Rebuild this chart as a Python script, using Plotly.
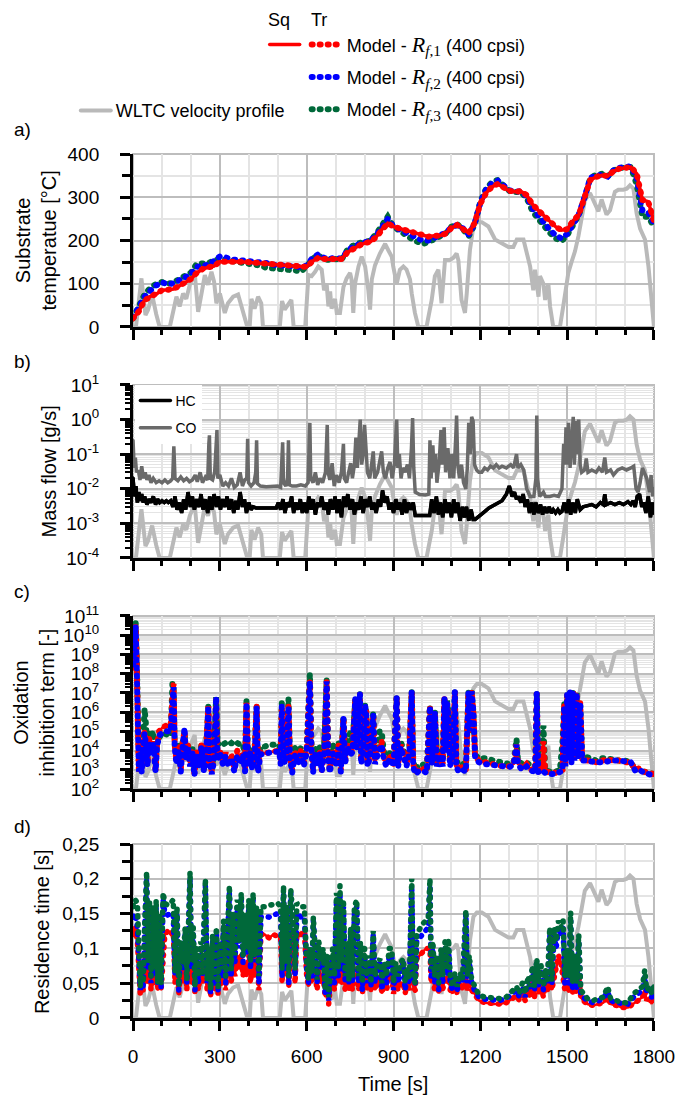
import plotly.graph_objects as go

# ---------------------------------------------------------------
# WLTC velocity profile (km/h), line vertices
# ---------------------------------------------------------------
vel_t = [0, 10, 29, 43, 52, 66, 80, 92, 127, 138,
         150, 161, 173, 184, 196, 213, 225, 236, 248, 259,
         271, 280, 288, 300, 317, 328, 346, 363, 374, 386,
         395, 403, 409, 420, 432, 443, 449, 507, 515, 524,
         536, 547, 555, 595, 606, 617, 629, 640, 652, 660,
         669, 675, 681, 686, 698, 704, 715, 727, 738, 750,
         755, 761, 767, 779, 790, 802, 813, 819, 825, 836,
         853, 871, 882, 894, 899, 911, 922, 934, 945, 957,
         963, 974, 986, 1014, 1032, 1043, 1055, 1060, 1066, 1078,
         1095, 1107, 1118, 1124, 1130, 1135, 1141, 1147, 1153, 1164,
         1176, 1188, 1205, 1228, 1251, 1274, 1297, 1314, 1326, 1349,
         1360, 1372, 1383, 1389, 1401, 1406, 1418, 1424, 1435, 1441,
         1452, 1475, 1487, 1504, 1515, 1527, 1539, 1550, 1561, 1579,
         1596, 1608, 1619, 1636, 1648, 1665, 1677, 1694, 1706, 1717,
         1729, 1740, 1752, 1769, 1781, 1792, 1800]
vel_kmh = [0, 0, 45, 11, 16, 30, 12, 0, 0, 14,
           28, 19, 31, 26, 39, 50, 14, 30, 48, 39,
           51, 42, 22, 31, 13, 22, 28, 30, 20, 11,
           0, 0, 26, 17, 28, 22, 0, 0, 24, 16,
           20, 25, 0, 0, 48, 47, 51, 56, 53, 34,
           40, 19, 33, 17, 26, 13, 13, 37, 45, 50,
           44, 13, 40, 56, 65, 56, 34, 16, 44, 57,
           68, 77, 71, 65, 56, 40, 53, 56, 53, 44,
           31, 13, 0, 0, 25, 47, 53, 34, 22, 62,
           62, 64, 68, 62, 44, 25, 19, 13, 31, 71,
           93, 97, 97, 93, 81, 77, 74, 74, 81, 81,
           68, 56, 34, 53, 28, 47, 40, 25, 40, 19,
           0, 0, 20, 50, 60, 70, 84, 100, 117, 124,
           114, 107, 118, 104, 108, 125, 127, 127, 128, 131,
           128, 105, 91, 81, 56, 25, 0]

# ---------------------------------------------------------------
# a) substrate temperature [°C], sampled every 20 s
# ---------------------------------------------------------------
temp_t = list(range(0, 1801, 20))
temp_rf1 = [20, 36, 62, 71, 76, 85, 86, 88, 95, 103,
            111, 125, 134, 138, 141, 151, 152, 151, 151, 151,
            150, 148, 147, 145, 144, 143, 143, 142, 140, 141,
            139, 152, 160, 157, 156, 158, 157, 172, 181, 188,
            194, 197, 208, 226, 240, 232, 228, 224, 220, 217,
            213, 209, 211, 211, 216, 229, 236, 228, 217, 240,
            285, 310, 324, 331, 322, 315, 313, 314, 305, 284,
            270, 257, 243, 232, 224, 226, 245, 259, 300, 340,
            347, 351, 349, 360, 366, 368, 370, 355, 294, 290,
            245]
temp_rf2 = [22, 45, 70, 84, 96, 103, 99, 101, 109, 116,
            122, 139, 142, 144, 153, 163, 161, 156, 155, 154,
            154, 153, 150, 148, 144, 142, 142, 141, 140, 138,
            142, 160, 168, 160, 158, 160, 158, 175, 186, 192,
            196, 200, 212, 230, 250, 232, 226, 220, 212, 205,
            200, 200, 206, 211, 218, 230, 236, 228, 214, 238,
            288, 318, 332, 338, 325, 316, 313, 314, 302, 275,
            258, 240, 225, 212, 205, 215, 238, 260, 300, 345,
            350, 352, 348, 362, 368, 369, 372, 345, 270, 265,
            240]
temp_rf3 = [20, 48, 76, 90, 100, 104, 100, 103, 112, 120,
            126, 146, 148, 148, 154, 158, 156, 152, 150, 148,
            147, 145, 142, 137, 135, 134, 133, 132, 131, 128,
            140, 158, 166, 156, 155, 157, 155, 178, 188, 194,
            196, 200, 215, 235, 255, 232, 222, 214, 205, 198,
            192, 196, 203, 208, 216, 232, 238, 226, 210, 236,
            290, 320, 335, 340, 326, 315, 312, 312, 298, 268,
            250, 232, 218, 205, 198, 212, 236, 258, 298, 345,
            352, 354, 348, 362, 368, 370, 370, 330, 255, 255,
            232]

# ---------------------------------------------------------------
# b) HC and CO mass flow [g/s]
# ---------------------------------------------------------------
hc_t = [0, 5, 10, 15, 20, 25, 30, 35, 40, 48,
        55, 62, 70, 78, 85, 92, 100, 108, 115, 122,
        130, 138, 145, 152, 160, 168, 175, 182, 190, 198,
        205, 212, 220, 228, 235, 242, 250, 258, 265, 272,
        280, 288, 295, 302, 310, 318, 325, 332, 340, 348,
        355, 362, 370, 378, 385, 392, 400, 408, 415, 425,
        440, 460, 480, 495, 502, 510, 518, 525, 532, 540,
        548, 555, 562, 570, 578, 585, 592, 600, 608, 615,
        622, 630, 638, 645, 652, 660, 668, 675, 682, 690,
        698, 705, 712, 720, 728, 735, 742, 750, 758, 765,
        772, 780, 788, 795, 802, 810, 818, 825, 832, 840,
        848, 855, 862, 870, 878, 885, 892, 900, 908, 915,
        922, 930, 938, 945, 952, 960, 968, 975, 1000, 1025,
        1032, 1040, 1048, 1055, 1062, 1070, 1078, 1085, 1092, 1100,
        1108, 1115, 1122, 1130, 1138, 1145, 1152, 1160, 1168, 1175,
        1182, 1190, 1200, 1215, 1230, 1245, 1260, 1275, 1290, 1300,
        1310, 1318, 1325, 1332, 1340, 1348, 1355, 1362, 1370, 1378,
        1385, 1392, 1400, 1408, 1415, 1422, 1430, 1438, 1445, 1452,
        1460, 1468, 1475, 1482, 1490, 1498, 1505, 1512, 1520, 1528,
        1535, 1545, 1555, 1570, 1585, 1600, 1615, 1625, 1630, 1635,
        1650, 1665, 1680, 1695, 1710, 1720, 1728, 1735, 1742, 1750,
        1758, 1765, 1772, 1780, 1788, 1795, 1800]
hc_flow = [0.02, 0.006, 0.012, 0.004, 0.008, 0.0045, 0.007, 0.004, 0.006, 0.0035,
           0.005, 0.004, 0.006, 0.0035, 0.005, 0.004, 0.0045, 0.004, 0.0045, 0.004,
           0.0045, 0.003, 0.006, 0.0025, 0.004, 0.002, 0.005, 0.0025, 0.008, 0.003,
           0.006, 0.0025, 0.005, 0.003, 0.007, 0.0025, 0.005, 0.002, 0.006, 0.0025,
           0.007, 0.003, 0.006, 0.0025, 0.005, 0.003, 0.006, 0.0025, 0.005, 0.002,
           0.0045, 0.0025, 0.008, 0.003, 0.005, 0.002, 0.004, 0.0025, 0.003, 0.0028,
           0.0028, 0.0028, 0.0027, 0.0028, 0.004, 0.0025, 0.005, 0.002, 0.004, 0.003,
           0.006, 0.002, 0.004, 0.0025, 0.005, 0.002, 0.004, 0.002, 0.006, 0.0025,
           0.005, 0.0018, 0.004, 0.003, 0.006, 0.0025, 0.004, 0.0018, 0.005, 0.0025,
           0.006, 0.002, 0.005, 0.0015, 0.006, 0.003, 0.007, 0.0025, 0.005, 0.0018,
           0.004, 0.0025, 0.006, 0.002, 0.005, 0.003, 0.006, 0.0025, 0.004, 0.002,
           0.005, 0.003, 0.009, 0.004, 0.006, 0.0025, 0.004, 0.002, 0.005, 0.0025,
           0.004, 0.0018, 0.005, 0.002, 0.004, 0.0025, 0.004, 0.0017, 0.0017, 0.0017,
           0.005, 0.002, 0.006, 0.0018, 0.004, 0.0015, 0.005, 0.002, 0.004, 0.0015,
           0.005, 0.002, 0.004, 0.0012, 0.003, 0.0015, 0.003, 0.0012, 0.0025, 0.0013,
           0.0013, 0.0015, 0.0018, 0.0022, 0.0028, 0.0033, 0.004, 0.0045, 0.007, 0.012,
           0.006, 0.008, 0.005, 0.006, 0.004, 0.007, 0.003, 0.005, 0.002, 0.004,
           0.0018, 0.004, 0.002, 0.0035, 0.0018, 0.003, 0.002, 0.003, 0.002, 0.0025,
           0.002, 0.0025, 0.002, 0.0022, 0.004, 0.002, 0.005, 0.0018, 0.004, 0.002,
           0.005, 0.0025, 0.003, 0.0032, 0.0035, 0.003, 0.004, 0.0035, 0.007, 0.0035,
           0.004, 0.0035, 0.004, 0.0035, 0.0042, 0.0035, 0.0045, 0.003, 0.006, 0.007,
           0.003, 0.004, 0.002, 0.006, 0.0015, 0.004, 0.002]

co_t = [0, 4, 8, 12, 18, 24, 30, 36, 42, 48,
        55, 62, 70, 80, 90, 100, 110, 120, 130, 137,
        141, 145, 155, 165, 175, 185, 195, 205, 215, 222,
        232, 240, 250, 258, 262, 264, 267, 275, 282, 288,
        290, 293, 300, 310, 320, 330, 340, 350, 360, 370,
        378, 386, 393, 396, 399, 408, 418, 424, 427, 430,
        440, 460, 480, 500, 510, 514, 517, 520, 528, 534,
        537, 540, 550, 565, 580, 595, 605, 609, 611, 614,
        622, 630, 638, 646, 655, 665, 669, 671, 674, 680,
        688, 695, 703, 712, 720, 727, 730, 738, 745, 752,
        758, 765, 770, 775, 780, 785, 790, 795, 800, 805,
        810, 818, 825, 830, 835, 845, 852, 859, 865, 872,
        880, 888, 895, 903, 911, 915, 920, 926, 932, 940,
        948, 955, 962, 966, 970, 975, 990, 1010, 1022, 1026,
        1030, 1036, 1040, 1045, 1050, 1058, 1064, 1068, 1075, 1080,
        1088, 1095, 1102, 1108, 1115, 1118, 1122, 1128, 1135, 1142,
        1150, 1155, 1160, 1165, 1170, 1175, 1180, 1187, 1195, 1205,
        1215, 1225, 1235, 1245, 1255, 1265, 1275, 1290, 1305, 1315,
        1325, 1330, 1340, 1350, 1360, 1372, 1385, 1392, 1395, 1398,
        1405, 1418, 1425, 1440, 1455, 1470, 1482, 1488, 1492, 1496,
        1500, 1505, 1510, 1515, 1521, 1525, 1530, 1535, 1540, 1545,
        1550, 1560, 1566, 1572, 1585, 1600, 1610, 1622, 1630, 1636,
        1650, 1660, 1675, 1690, 1705, 1720, 1730, 1738, 1745, 1752,
        1760, 1766, 1775, 1785, 1790, 1795, 1800]
co_flow = [0.25, 0.04, 0.08, 0.03, 0.035, 0.018, 0.045, 0.02, 0.03, 0.018,
           0.025, 0.015, 0.02, 0.015, 0.017, 0.015, 0.018, 0.015, 0.017, 0.02,
           0.17, 0.02, 0.017, 0.022, 0.017, 0.02, 0.016, 0.018, 0.025, 0.016,
           0.03, 0.015, 0.022, 0.018, 0.2, 0.35, 0.02, 0.018, 0.03, 0.2,
           0.5, 0.02, 0.025, 0.012, 0.015, 0.012, 0.02, 0.011, 0.013, 0.03,
           0.012, 0.018, 0.02, 0.28, 0.015, 0.012, 0.015, 0.03, 0.25, 0.014,
           0.012, 0.0115, 0.0115, 0.012, 0.011, 0.2, 0.22, 0.015, 0.012, 0.02,
           0.25, 0.013, 0.012, 0.012, 0.013, 0.012, 0.015, 0.3, 0.8, 0.02,
           0.015, 0.03, 0.013, 0.02, 0.015, 0.03, 0.35, 0.7, 0.03, 0.018,
           0.055, 0.012, 0.025, 0.015, 0.03, 0.2, 0.02, 0.015, 0.03, 0.055,
           0.02, 0.05, 0.3, 0.04, 0.2, 1.0, 0.05, 0.1, 0.7, 0.2,
           0.03, 0.02, 0.05, 0.12, 0.02, 0.03, 0.06, 0.12, 0.03, 0.02,
           0.04, 0.06, 0.02, 0.05, 1.0, 0.04, 0.1, 0.02, 0.04, 0.03,
           0.05, 0.02, 0.15, 1.1, 0.04, 0.008, 0.0068, 0.0066, 0.007, 0.25,
           0.02, 0.18, 0.03, 0.1, 0.015, 0.06, 0.5, 0.05, 0.6, 0.03,
           0.15, 0.02, 0.1, 0.02, 0.3, 1.3, 0.05, 0.02, 0.05, 0.015,
           0.01, 0.04, 0.8, 0.1, 1.2, 0.9, 0.05, 0.035, 0.03, 0.03,
           0.04, 0.035, 0.045, 0.04, 0.05, 0.04, 0.045, 0.04, 0.05, 0.04,
           0.1, 0.04, 0.05, 0.035, 0.01, 0.006, 0.006, 0.02, 1.3, 0.02,
           0.006, 0.008, 0.006, 0.006, 0.0065, 0.006, 0.01, 0.2, 0.05, 0.6,
           0.05, 0.8, 0.04, 0.3, 1.2, 0.05, 0.9, 0.1, 1.0, 0.05,
           0.03, 0.035, 0.075, 0.03, 0.035, 0.03, 0.04, 0.03, 0.08, 0.03,
           0.035, 0.025, 0.035, 0.04, 0.035, 0.04, 0.045, 0.01, 0.008, 0.015,
           0.04, 0.03, 0.02, 0.008, 0.025, 0.006, 0.01]

# ---------------------------------------------------------------
# c) oxidation inhibition term [-]
# ---------------------------------------------------------------
inh_t = [0, 5, 9, 12, 15, 20, 25, 30, 35, 40,
         45, 50, 55, 62, 70, 78, 83, 90, 100, 115,
         130, 136, 140, 144, 150, 158, 165, 172, 178, 183,
         190, 197, 205, 212, 220, 228, 236, 245, 252, 260,
         265, 272, 280, 287, 292, 300, 310, 320, 330, 340,
         350, 360, 370, 380, 387, 392, 397, 405, 412, 420,
         427, 432, 440, 450, 470, 490, 505, 510, 514, 519,
         525, 531, 537, 542, 550, 560, 570, 580, 590, 600,
         606, 611, 616, 622, 630, 638, 645, 652, 660, 669,
         674, 680, 690, 700, 710, 718, 727, 733, 740, 750,
         758, 764, 768, 772, 778, 784, 788, 795, 802, 806,
         810, 818, 830, 836, 845, 852, 859, 866, 875, 888,
         900, 911, 916, 925, 935, 945, 955, 963, 968, 975,
         985, 1000, 1015, 1026, 1032, 1043, 1050, 1060, 1070, 1076,
         1080, 1085, 1090, 1095, 1105, 1112, 1117, 1125, 1140, 1150,
         1159, 1164, 1170, 1176, 1182, 1195, 1215, 1240, 1270, 1300,
         1315, 1325, 1330, 1345, 1360, 1375, 1390, 1395, 1400, 1412,
         1418, 1424, 1440, 1460, 1475, 1484, 1490, 1494, 1500, 1504,
         1510, 1515, 1520, 1525, 1533, 1538, 1545, 1552, 1560, 1580,
         1600, 1620, 1640, 1660, 1680, 1700, 1720, 1735, 1750, 1765,
         1780, 1800]
inh_rf1 = [2e8, 3e9, 3e10, 1e9, 3e4, 1e3, 2e4, 1e3, 3e4, 1e5,
           3e4, 2e3, 5e4, 1e4, 3e4, 1e3, 2e4, 1e5, 1.5e5, 2e5,
           2e5, 3e7, 3e7, 2e4, 3e3, 2e4, 1e3, 3e4, 1e5, 5e3,
           2e4, 2e3, 1e4, 6e2, 8e3, 2e3, 2e4, 1e3, 5e3, 2e6,
           3e3, 8e2, 5e3, 6e6, 5e3, 1e4, 3e3, 8e3, 2e3, 6e3,
           1e3, 1e4, 3e3, 8e3, 1e3, 3e6, 2e3, 1e4, 1.5e3, 5e3,
           2e6, 1e3, 8e3, 7e3, 8e3, 9e3, 1e4, 3e3, 2e6, 1e4,
           3e3, 8e3, 2e6, 5e3, 1e3, 1e4, 3e3, 1e4, 2e3, 1e4,
           1e6, 4e7, 2e4, 1e3, 8e3, 2e3, 1e4, 1e3, 8e3, 4e7,
           5e3, 1e3, 1e4, 2e3, 2e4, 1e3, 5e5, 3e3, 2e4, 8e3,
           1e4, 1.5e6, 5e6, 2e4, 1e6, 1e7, 3e3, 1e4, 2e6, 1e6,
           2e3, 5e3, 7e5, 3e3, 8e3, 2e4, 3e4, 5e3, 2e3, 5e3,
           2e3, 6e6, 2e3, 2e4, 8e3, 2e3, 1e4, 1.2e7, 2e3, 8e2,
           1e3, 1.2e3, 8e2, 2e6, 3e3, 1e6, 2e3, 8e3, 2e3, 6e6,
           1e4, 3e6, 8e5, 2e3, 8e3, 1.2e7, 2e3, 1e3, 1.5e3, 1e3,
           1e7, 1e5, 1.2e7, 1e6, 5e3, 3e3, 2.5e3, 2e3, 1.6e3, 1.5e3,
           2e3, 2e4, 2e3, 1.2e3, 2e3, 1e3, 1e3, 1e7, 8e2, 1e3,
           3e4, 8e2, 7e2, 7e2, 8e2, 1e3, 2e6, 2e3, 8e6, 5e3,
           1.2e7, 3e3, 1.2e7, 4e3, 1e7, 5e3, 3e6, 3e3, 3e3, 3e3,
           2.5e3, 3e3, 3.5e3, 3e3, 3e3, 2.5e3, 2.5e3, 1e3, 1.2e3, 8e2,
           7e2, 6e2]
inh_rf2 = [3e8, 3e9, 3e10, 1e9, 2e4, 8e2, 1.5e4, 7e2, 2e4, 8e4,
           2e4, 1.5e3, 3e4, 8e3, 2e4, 8e2, 1.5e4, 6e4, 8e4, 1e5,
           1e5, 2e7, 2e7, 1.5e4, 2e3, 1e4, 8e2, 2e4, 1.5e5, 4e3,
           1.5e4, 1.5e3, 8e3, 5e2, 6e3, 1.5e3, 1.5e4, 8e2, 4e3, 2e6,
           2e3, 6e2, 3e3, 6e6, 3e3, 8e3, 2e3, 5e3, 1.5e3, 4e3,
           8e2, 6e3, 2e3, 6e3, 8e2, 3e6, 1.5e3, 8e3, 1e3, 4e3,
           2e6, 7e2, 6e3, 7e3, 8e3, 9e3, 9e3, 2e3, 2e6, 8e3,
           2e3, 6e3, 2e6, 4e3, 7e2, 7e3, 2e3, 7e3, 1.5e3, 8e3,
           1e6, 4e7, 1.5e4, 7e2, 6e3, 1.5e3, 8e3, 8e2, 6e3, 4e7,
           4e3, 7e2, 7e3, 1.5e3, 1.5e4, 8e2, 5e5, 2e3, 1.5e4, 6e3,
           8e3, 1.5e6, 5e6, 1.5e4, 1e6, 1e7, 2e3, 8e3, 2e6, 1e6,
           1.5e3, 4e3, 7e5, 2e3, 6e3, 1.5e4, 2e4, 4e3, 1.5e3, 4e3,
           1.5e3, 6e6, 1.5e3, 1.5e4, 6e3, 1.5e3, 8e3, 1.2e7, 1.5e3, 6e2,
           8e2, 9e2, 7e2, 2e6, 2e3, 1e6, 1.5e3, 6e3, 1.5e3, 6e6,
           8e3, 3e6, 8e5, 1.5e3, 6e3, 1.2e7, 1.5e3, 8e2, 1e3, 8e2,
           1e7, 1e5, 1.2e7, 1e6, 4e3, 2.5e3, 2e3, 1.8e3, 1.5e3, 1.4e3,
           1.8e3, 2e4, 1.8e3, 1e3, 1.5e3, 9e2, 8e2, 1e7, 7e2, 8e2,
           8e2, 7e2, 6e2, 6e2, 7e2, 9e2, 2e6, 1.5e3, 8e6, 4e3,
           1.2e7, 2e3, 1.2e7, 3e3, 1e7, 4e3, 3e6, 3e3, 3e3, 2.5e3,
           2.5e3, 2.5e3, 3e3, 3e3, 3e3, 2.5e3, 2.5e3, 9e2, 1e3, 7e2,
           6e2, 5e2]
inh_rf3 = [5e8, 5e9, 5e10, 3e9, 4e4, 3e3, 3e4, 2e3, 4e4, 1.5e6,
           2e5, 5e3, 1e5, 4e4, 1e5, 2e3, 3e4, 5e4, 8e4, 7e4,
           6e4, 3e7, 3e7, 2e4, 5e3, 2e4, 2e3, 3e4, 1e5, 8e3,
           2e4, 3e3, 1.5e4, 1e3, 1e4, 3e3, 2e4, 2e3, 8e3, 2e6,
           5e3, 1e3, 8e3, 6e6, 2e4, 2.5e4, 2e4, 2.5e4, 2e4, 2.5e4,
           2e4, 2.5e4, 2e4, 2e4, 3e3, 4e6, 8e3, 1.5e4, 5e3, 1e4,
           2e6, 3e3, 1.5e4, 1.5e4, 2e4, 2e4, 2e4, 5e3, 3e6, 2e4,
           5e3, 1.5e4, 5e6, 1e4, 2e3, 1.5e4, 6e3, 1.5e4, 4e3, 1.2e4,
           1e6, 1e8, 3e4, 2e3, 1.5e4, 3e3, 1.5e4, 2e3, 1.2e4, 5e7,
           1e4, 2e3, 2e4, 4e3, 3e4, 2e3, 6e5, 6e3, 3e4, 8e4,
           2e4, 2e6, 5e6, 3e4, 1.5e6, 1e7, 5e3, 1.5e4, 2.5e6, 1e6,
           3e3, 8e3, 1e6, 5e3, 1.5e4, 1e5, 1e5, 1e4, 3e3, 8e3,
           3e3, 6e6, 3e3, 3e4, 1e4, 3e3, 1.5e4, 1.2e7, 3e3, 1e3,
           1.5e3, 2e3, 1e3, 2e6, 5e3, 1.2e6, 3e3, 1e4, 3e3, 6e6,
           2e4, 4e6, 1e6, 3e3, 1e4, 1.2e7, 3e3, 2e3, 2e3, 1.5e3,
           1.2e7, 1e5, 1.2e7, 1e6, 6e3, 4e3, 4e3, 3.5e3, 2.5e3, 2e3,
           2.5e3, 4e4, 3e3, 2e3, 2.5e3, 1.5e3, 1.5e3, 1.2e7, 1e3, 1.5e3,
           2e5, 1e3, 8e2, 8e2, 1e3, 3e4, 3e6, 5e3, 8e6, 8e3,
           1.2e7, 5e3, 1.2e7, 6e3, 1e7, 8e3, 3e6, 5e3, 5e3, 4e3,
           3e3, 4e3, 4e3, 3.5e3, 3e3, 3e3, 2.5e3, 1e3, 1.2e3, 8e2,
           7e2, 6e2]

# ---------------------------------------------------------------
# d) residence time [s]
# ---------------------------------------------------------------
res_t = [0, 8, 15, 20, 25, 30, 35, 40, 47, 52,
         57, 62, 68, 73, 80, 85, 92, 97, 104, 110,
         120, 130, 139, 145, 152, 158, 165, 172, 180, 186,
         191, 197, 202, 208, 214, 220, 226, 234, 240, 250,
         256, 262, 268, 275, 281, 288, 294, 300, 306, 313,
         320, 327, 333, 339, 346, 352, 360, 366, 374, 380,
         387, 392, 400, 406, 415, 420, 427, 435, 442, 455,
         470, 485, 500, 510, 515, 520, 525, 530, 538, 545,
         550, 560, 566, 580, 592, 600, 606, 612, 618, 623,
         630, 636, 642, 650, 657, 664, 670, 676, 683, 690,
         696, 703, 709, 715, 721, 727, 733, 740, 746, 752,
         758, 765, 773, 779, 786, 792, 800, 808, 815, 822,
         830, 836, 845, 853, 860, 868, 876, 885, 894, 900,
         908, 916, 925, 934, 940, 948, 955, 963, 968, 975,
         980, 990, 1000, 1012, 1020, 1026, 1030, 1036, 1042, 1050,
         1056, 1064, 1070, 1078, 1084, 1090, 1096, 1104, 1112, 1120,
         1130, 1138, 1145, 1150, 1155, 1162, 1170, 1180, 1195, 1215,
         1240, 1265, 1290, 1310, 1325, 1335, 1345, 1355, 1365, 1372,
         1380, 1387, 1395, 1402, 1410, 1418, 1425, 1432, 1440, 1447,
         1455, 1462, 1470, 1478, 1486, 1492, 1500, 1506, 1512, 1518,
         1525, 1532, 1540, 1547, 1555, 1570, 1590, 1610, 1625, 1640,
         1650, 1670, 1690, 1710, 1730, 1745, 1760, 1768, 1775, 1785,
         1792, 1800]
res_rf1 = [0.12, 0.13, 0.11, 0.05, 0.035, 0.06, 0.04, 0.08, 0.1, 0.05,
           0.1, 0.04, 0.1, 0.05, 0.09, 0.04, 0.08, 0.04, 0.1, 0.12,
           0.125, 0.12, 0.125, 0.05, 0.1, 0.035, 0.07, 0.05, 0.08, 0.04,
           0.1, 0.12, 0.05, 0.08, 0.035, 0.06, 0.04, 0.07, 0.05, 0.1,
           0.04, 0.06, 0.03, 0.07, 0.04, 0.08, 0.035, 0.07, 0.05, 0.08,
           0.04, 0.07, 0.1, 0.05, 0.08, 0.06, 0.09, 0.07, 0.09, 0.06,
           0.08, 0.06, 0.09, 0.05, 0.1, 0.06, 0.1, 0.04, 0.12, 0.12,
           0.115, 0.12, 0.118, 0.115, 0.05, 0.11, 0.06, 0.12, 0.045, 0.11,
           0.12, 0.05, 0.12, 0.12, 0.125, 0.06, 0.045, 0.07, 0.05, 0.08,
           0.06, 0.04, 0.07, 0.05, 0.06, 0.03, 0.05, 0.02, 0.05, 0.06,
           0.04, 0.07, 0.05, 0.08, 0.05, 0.07, 0.04, 0.06, 0.04, 0.06,
           0.04, 0.07, 0.07, 0.04, 0.06, 0.035, 0.06, 0.04, 0.06, 0.04,
           0.07, 0.04, 0.05, 0.06, 0.035, 0.05, 0.04, 0.06, 0.06, 0.035,
           0.05, 0.04, 0.05, 0.05, 0.035, 0.05, 0.04, 0.08, 0.045, 0.04,
           0.085, 0.09, 0.095, 0.1, 0.1, 0.1, 0.05, 0.06, 0.04, 0.05,
           0.035, 0.05, 0.04, 0.06, 0.05, 0.06, 0.04, 0.035, 0.05, 0.035,
           0.05, 0.04, 0.05, 0.06, 0.04, 0.05, 0.04, 0.035, 0.025, 0.022,
           0.02, 0.02, 0.022, 0.028, 0.032, 0.025, 0.035, 0.025, 0.04, 0.03,
           0.05, 0.03, 0.05, 0.035, 0.045, 0.03, 0.05, 0.04, 0.06, 0.04,
           0.06, 0.07, 0.09, 0.08, 0.06, 0.04, 0.05, 0.04, 0.07, 0.035,
           0.05, 0.035, 0.06, 0.03, 0.025, 0.02, 0.018, 0.02, 0.022, 0.03,
           0.02, 0.018, 0.015, 0.015, 0.02, 0.025, 0.03, 0.04, 0.025, 0.03,
           0.02, 0.035]
res_rf2 = [0.145, 0.15, 0.13, 0.06, 0.04, 0.07, 0.045, 0.12, 0.2, 0.07,
           0.16, 0.05, 0.15, 0.06, 0.16, 0.05, 0.14, 0.045, 0.17, 0.15,
           0.148, 0.15, 0.15, 0.06, 0.15, 0.04, 0.1, 0.07, 0.12, 0.05,
           0.15, 0.2, 0.07, 0.12, 0.04, 0.09, 0.05, 0.1, 0.06, 0.19,
           0.05, 0.09, 0.035, 0.11, 0.05, 0.12, 0.04, 0.1, 0.06, 0.13,
           0.05, 0.11, 0.18, 0.06, 0.14, 0.08, 0.16, 0.1, 0.17, 0.08,
           0.14, 0.09, 0.16, 0.07, 0.17, 0.08, 0.15, 0.05, 0.145, 0.146,
           0.145, 0.148, 0.15, 0.145, 0.06, 0.18, 0.07, 0.15, 0.05, 0.18,
           0.15, 0.06, 0.15, 0.145, 0.145, 0.07, 0.05, 0.09, 0.06, 0.14,
           0.09, 0.05, 0.1, 0.07, 0.09, 0.035, 0.08, 0.025, 0.07, 0.09,
           0.05, 0.17, 0.06, 0.18, 0.07, 0.16, 0.05, 0.1, 0.05, 0.12,
           0.05, 0.15, 0.16, 0.05, 0.1, 0.04, 0.09, 0.05, 0.08, 0.045,
           0.12, 0.05, 0.07, 0.08, 0.04, 0.07, 0.05, 0.09, 0.09, 0.04,
           0.07, 0.05, 0.07, 0.08, 0.04, 0.06, 0.05, 0.19, 0.05, 0.05,
           0.11, 0.115, 0.12, 0.125, 0.13, 0.19, 0.06, 0.1, 0.05, 0.08,
           0.04, 0.09, 0.05, 0.1, 0.06, 0.1, 0.05, 0.04, 0.06, 0.04,
           0.06, 0.05, 0.09, 0.15, 0.05, 0.08, 0.05, 0.04, 0.03, 0.027,
           0.025, 0.025, 0.028, 0.035, 0.04, 0.03, 0.045, 0.03, 0.055, 0.04,
           0.07, 0.04, 0.08, 0.045, 0.07, 0.04, 0.065, 0.05, 0.12, 0.05,
           0.12, 0.1, 0.13, 0.12, 0.13, 0.05, 0.09, 0.05, 0.14, 0.04,
           0.08, 0.04, 0.11, 0.035, 0.03, 0.025, 0.022, 0.025, 0.028, 0.038,
           0.025, 0.022, 0.02, 0.02, 0.03, 0.035, 0.04, 0.06, 0.035, 0.04,
           0.03, 0.05]
res_rf3 = [0.16, 0.17, 0.165, 0.07, 0.045, 0.08, 0.05, 0.13, 0.21, 0.08,
           0.17, 0.06, 0.16, 0.07, 0.17, 0.05, 0.15, 0.05, 0.18, 0.165,
           0.162, 0.165, 0.17, 0.065, 0.16, 0.045, 0.11, 0.08, 0.13, 0.055,
           0.16, 0.21, 0.08, 0.13, 0.045, 0.1, 0.06, 0.11, 0.065, 0.2,
           0.055, 0.1, 0.04, 0.12, 0.055, 0.13, 0.045, 0.11, 0.07, 0.14,
           0.06, 0.12, 0.19, 0.07, 0.15, 0.09, 0.17, 0.11, 0.18, 0.09,
           0.15, 0.1, 0.17, 0.08, 0.18, 0.09, 0.16, 0.06, 0.16, 0.16,
           0.162, 0.163, 0.165, 0.16, 0.07, 0.19, 0.08, 0.16, 0.06, 0.185,
           0.16, 0.07, 0.165, 0.16, 0.16, 0.08, 0.055, 0.1, 0.065, 0.145,
           0.1, 0.055, 0.11, 0.08, 0.1, 0.04, 0.09, 0.03, 0.08, 0.1,
           0.06, 0.18, 0.07, 0.19, 0.08, 0.17, 0.06, 0.11, 0.055, 0.13,
           0.06, 0.16, 0.17, 0.06, 0.11, 0.05, 0.1, 0.06, 0.09, 0.05,
           0.125, 0.06, 0.08, 0.085, 0.05, 0.08, 0.06, 0.1, 0.1, 0.05,
           0.08, 0.06, 0.08, 0.085, 0.05, 0.07, 0.055, 0.2, 0.06, 0.05,
           0.12, 0.13, 0.135, 0.14, 0.145, 0.2, 0.07, 0.11, 0.06, 0.09,
           0.05, 0.1, 0.06, 0.11, 0.07, 0.114, 0.06, 0.045, 0.065, 0.045,
           0.065, 0.055, 0.1, 0.155, 0.06, 0.09, 0.055, 0.045, 0.033, 0.03,
           0.028, 0.028, 0.03, 0.04, 0.045, 0.035, 0.05, 0.035, 0.06, 0.045,
           0.075, 0.045, 0.085, 0.05, 0.075, 0.045, 0.07, 0.055, 0.13, 0.055,
           0.13, 0.11, 0.14, 0.13, 0.14, 0.06, 0.1, 0.06, 0.152, 0.05,
           0.09, 0.05, 0.12, 0.04, 0.035, 0.028, 0.025, 0.028, 0.03, 0.045,
           0.028, 0.025, 0.022, 0.022, 0.035, 0.04, 0.045, 0.069, 0.04, 0.045,
           0.035, 0.045]

for a, b in [(vel_t, vel_kmh), (temp_t, temp_rf1), (temp_t, temp_rf2), (temp_t, temp_rf3),
             (hc_t, hc_flow), (co_t, co_flow), (inh_t, inh_rf1), (inh_t, inh_rf2),
             (inh_t, inh_rf3), (res_t, res_rf1), (res_t, res_rf2), (res_t, res_rf3)]:
    assert len(a) == len(b), (len(a), len(b))

# ---------------------------------------------------------------
# styling
# ---------------------------------------------------------------
FONT = "Liberation Sans, Arial, sans-serif"
LEG_FONT = "Liberation Sans Narrow, Liberation Sans, Arial, sans-serif"
RED, BLUE, GREEN = "#ff0000", "#0000ff", "#00693a"
VEL_GREY = "#b9b9b9"
CO_GREY = "#6a6a6a"
GRID_MAJOR = "#bdbdbd"
GRID_MINOR = "#e4e4e4"
DOT_DASH = "1px,7px"   # short dashes + round caps -> dotted line

X_DOM = [0.1965, 0.966]
PANELS = {  # name: (x axis, velocity y axis, data y axis, y domain)
    "a": ("x", "y", "y2", [0.7022, 0.8597]),
    "b": ("x2", "y3", "y4", [0.4918, 0.6494]),
    "c": ("x3", "y5", "y6", [0.2814, 0.4390]),
    "d": ("x4", "y7", "y8", [0.0729, 0.2313]),
}


def model_label(i):
    return ('Model - <span style="font-family:Liberation Serif;font-size:22px">'
            f'<i>R</i><sub><i>f</i>,{i}</sub></span> (400 cpsi)')


fig = go.Figure()

# velocity profile in every panel (hidden 0-160 km/h axis, drawn underneath)
for key, (xa, yv, yd, dom) in PANELS.items():
    fig.add_trace(go.Scatter(
        x=vel_t, y=vel_kmh, xaxis=xa, yaxis=yv, mode="lines",
        line=dict(color=VEL_GREY, width=4),
        name="WLTC velocity profile", legend="legend3",
        showlegend=(key == "a"), hoverinfo="skip"))


def dotted(t, v, color, xa, ya, name=None, rank=None, show=False, width=6):
    return go.Scatter(x=t, y=v, xaxis=xa, yaxis=ya, mode="lines",
                      line=dict(color=color, width=width, dash=DOT_DASH),
                      name=name, legendgroup=name, legendrank=rank,
                      showlegend=show, hoverinfo="skip")


def solid_sq(t, v, xa, ya, show=False, width=3.5):
    return go.Scatter(x=t, y=v, xaxis=xa, yaxis=ya, mode="lines",
                      line=dict(color=RED, width=width), name="",
                      legend="legend2", showlegend=show, hoverinfo="skip")


# a) substrate temperature
xa, _, ya, _ = PANELS["a"]
fig.add_trace(dotted(temp_t, temp_rf3, GREEN, xa, ya, model_label(3), 3, True))
fig.add_trace(dotted(temp_t, temp_rf2, BLUE, xa, ya, model_label(2), 2, True))
fig.add_trace(solid_sq(temp_t, temp_rf1, xa, ya, show=True))
fig.add_trace(dotted(temp_t, temp_rf1, RED, xa, ya, model_label(1), 1, True))

# b) mass flow
xa, _, ya, _ = PANELS["b"]
fig.add_trace(go.Scatter(x=hc_t, y=hc_flow, xaxis=xa, yaxis=ya, mode="lines",
                         line=dict(color="black", width=3.5), name="HC",
                         legend="legend4", legendgroup="hc", hoverinfo="skip"))
fig.add_trace(go.Scatter(x=co_t, y=co_flow, xaxis=xa, yaxis=ya, mode="lines",
                         line=dict(color=CO_GREY, width=3.5), name="CO",
                         legend="legend4", legendgroup="co", hoverinfo="skip"))
# redraw HC on top of CO
fig.add_trace(go.Scatter(x=hc_t, y=hc_flow, xaxis=xa, yaxis=ya, mode="lines",
                         line=dict(color="black", width=3.5), showlegend=False,
                         hoverinfo="skip"))

# c) oxidation inhibition term
xa, _, ya, _ = PANELS["c"]
fig.add_trace(dotted(inh_t, inh_rf3, GREEN, xa, ya))
fig.add_trace(solid_sq(inh_t, inh_rf1, xa, ya, width=2.5))
fig.add_trace(dotted(inh_t, inh_rf1, RED, xa, ya))
fig.add_trace(dotted(inh_t, inh_rf2, BLUE, xa, ya))

# d) residence time
xa, _, ya, _ = PANELS["d"]
fig.add_trace(solid_sq(res_t, res_rf1, xa, ya, width=2.5))
fig.add_trace(dotted(res_t, res_rf1, RED, xa, ya, width=5.5))
fig.add_trace(dotted(res_t, res_rf2, BLUE, xa, ya, width=5.5))
fig.add_trace(dotted(res_t, res_rf3, GREEN, xa, ya, width=5.5))

# ---------------------------------------------------------------
# axes
# ---------------------------------------------------------------
TICK = dict(ticks="outside", tickcolor="black", tickwidth=2.5)
x_common = dict(
    domain=X_DOM, range=[0, 1800], tickmode="linear", tick0=0, dtick=300,
    ticklen=10, **TICK, showline=True, linecolor="black", linewidth=3,
    showgrid=True, gridcolor=GRID_MAJOR, gridwidth=2, zeroline=False,
    minor=dict(tick0=0, dtick=100, ticks="outside", ticklen=5, tickwidth=2.5,
               tickcolor="black", showgrid=True, gridcolor=GRID_MINOR, gridwidth=2),
    fixedrange=True, automargin=False, showticklabels=False,
    tickfont=dict(size=19), ticklabelstandoff=9)
y_common = dict(
    side="left", ticklen=10, **TICK, showline=True, linecolor="black",
    linewidth=3, showgrid=True, gridcolor=GRID_MAJOR, gridwidth=2,
    zeroline=False, fixedrange=True, automargin=False,
    tickfont=dict(size=19), ticklabelstandoff=17)

mass_vals = [1e-4, 1e-3, 1e-2, 1e-1, 1e0, 1e1]
mass_text = ["10<sup>-4</sup>", "10<sup>-3</sup>", "10<sup>-2</sup>",
             "10<sup>-1</sup>", "10<sup>0</sup>", "10<sup>1</sup>"]
inh_vals = [10.0 ** k for k in range(2, 12)]
inh_text = [f"10<sup>{k}</sup>" for k in range(2, 12)]
log_minor = dict(dtick="D1", ticks="outside", ticklen=5, tickwidth=1.5,
                 tickcolor="black", showgrid=True, gridcolor=GRID_MINOR,
                 gridwidth=1.2)

data_axes = {
    "a": dict(range=[0, 400], tickmode="linear", tick0=0, dtick=100,
              minor=dict(tick0=0, dtick=50, ticks="outside", ticklen=8,
                         tickwidth=2.5, tickcolor="black", showgrid=True,
                         gridcolor=GRID_MINOR, gridwidth=2)),
    "b": dict(type="log", range=[-4, 1], tickmode="array",
              tickvals=mass_vals, ticktext=mass_text, minor=log_minor),
    "c": dict(type="log", range=[2, 11], tickmode="array",
              tickvals=inh_vals, ticktext=inh_text, minor=log_minor),
    "d": dict(range=[0, 0.25], tickmode="linear", tick0=0, dtick=0.05,
              minor=dict(tick0=0, dtick=0.025, ticks="outside", ticklen=8,
                         tickwidth=2.5, tickcolor="black", showgrid=True,
                         gridcolor=GRID_MINOR, gridwidth=2)),
}


def axis_key(ref):
    return ref[0] + "axis" + ref[1:]


layout_axes = {}
shapes = []
for key, (xa, yv, yd, dom) in PANELS.items():
    xd = dict(x_common, anchor=yv)
    if key == "d":
        xd["showticklabels"] = True
    layout_axes[axis_key(xa)] = xd
    layout_axes[axis_key(yv)] = dict(domain=dom, anchor=xa, range=[0, 160],
                                     visible=False, fixedrange=True)
    layout_axes[axis_key(yd)] = dict(y_common, overlaying=yv, anchor=xa,
                                     **data_axes[key])
    # light grey frame on the top and right of each panel
    shapes.append(dict(type="rect", xref=f"{xa} domain", yref=f"{yv} domain",
                       x0=0, x1=1, y0=0, y1=1, layer="below",
                       line=dict(color=GRID_MAJOR, width=2)))

# ---------------------------------------------------------------
# texts
# ---------------------------------------------------------------
def ann(text, x, y, size=20, angle=0, xanchor="center", font=FONT):
    return dict(text=text, x=x, y=y, xref="paper", yref="paper",
                showarrow=False, textangle=angle, xanchor=xanchor,
                yanchor="middle", font=dict(family=font, size=size, color="black"))


annotations = [
    ann("Substrate<br>temperatue [°C]", 0.0532, 0.781, angle=-90),
    ann("Mass flow [g/s]", 0.0724, 0.5706, angle=-90),
    ann("Oxidation<br>inhibition term [-]", 0.0502, 0.3602, angle=-90),
    ann("Residence time [s]", 0.062, 0.152, angle=-90),
    ann("Time [s]", 0.5805, 0.0128),
    ann("a)", 0.018, 0.8825, size=19, xanchor="left"),
    ann("b)", 0.018, 0.6712, size=19, xanchor="left"),
    ann("c)", 0.018, 0.4609, size=19, xanchor="left"),
    ann("d)", 0.018, 0.2477, size=19, xanchor="left"),
    ann("Sq", 0.412, 0.9818, size=18, font=LEG_FONT),
    ann("Tr", 0.471, 0.9818, size=18, font=LEG_FONT),
]

leg_font = dict(family=LEG_FONT, size=18, color="black")
fig.update_layout(
    width=677, height=1098, autosize=False,
    margin=dict(l=0, r=0, t=0, b=0, pad=0),
    template="none", paper_bgcolor="white", plot_bgcolor="rgba(0,0,0,0)",
    font=dict(family=FONT, size=19, color="black"),
    separators=", ", hovermode=False,
    legend=dict(x=0.453, y=0.976, xanchor="left", yanchor="top",
                font=leg_font, bgcolor="rgba(0,0,0,0)", borderwidth=0,
                traceorder="grouped", tracegroupgap=6),
    legend2=dict(x=0.391, y=0.976, xanchor="left", yanchor="top",
                 font=leg_font, bgcolor="rgba(0,0,0,0)", borderwidth=0),
    legend3=dict(x=0.112, y=0.916, xanchor="left", yanchor="top",
                 font=leg_font, bgcolor="rgba(0,0,0,0)", borderwidth=0),
    legend4=dict(x=0.2, y=0.6494, xanchor="left", yanchor="top",
                 font=dict(family=FONT, size=14, color="black"),
                 bgcolor="white", borderwidth=0, traceorder="grouped",
                 tracegroupgap=6),
    annotations=annotations, shapes=shapes,
    **layout_axes,
)

# round line caps turn the short dashes into dots
ROUND_CAPS = ("var s=document.createElement('style');"
              "s.textContent='path.js-line, g.legendlines path"
              "{stroke-linecap:round !important;}';"
              "document.head.appendChild(s);")

fig.write_html("out.html", post_script=ROUND_CAPS)
